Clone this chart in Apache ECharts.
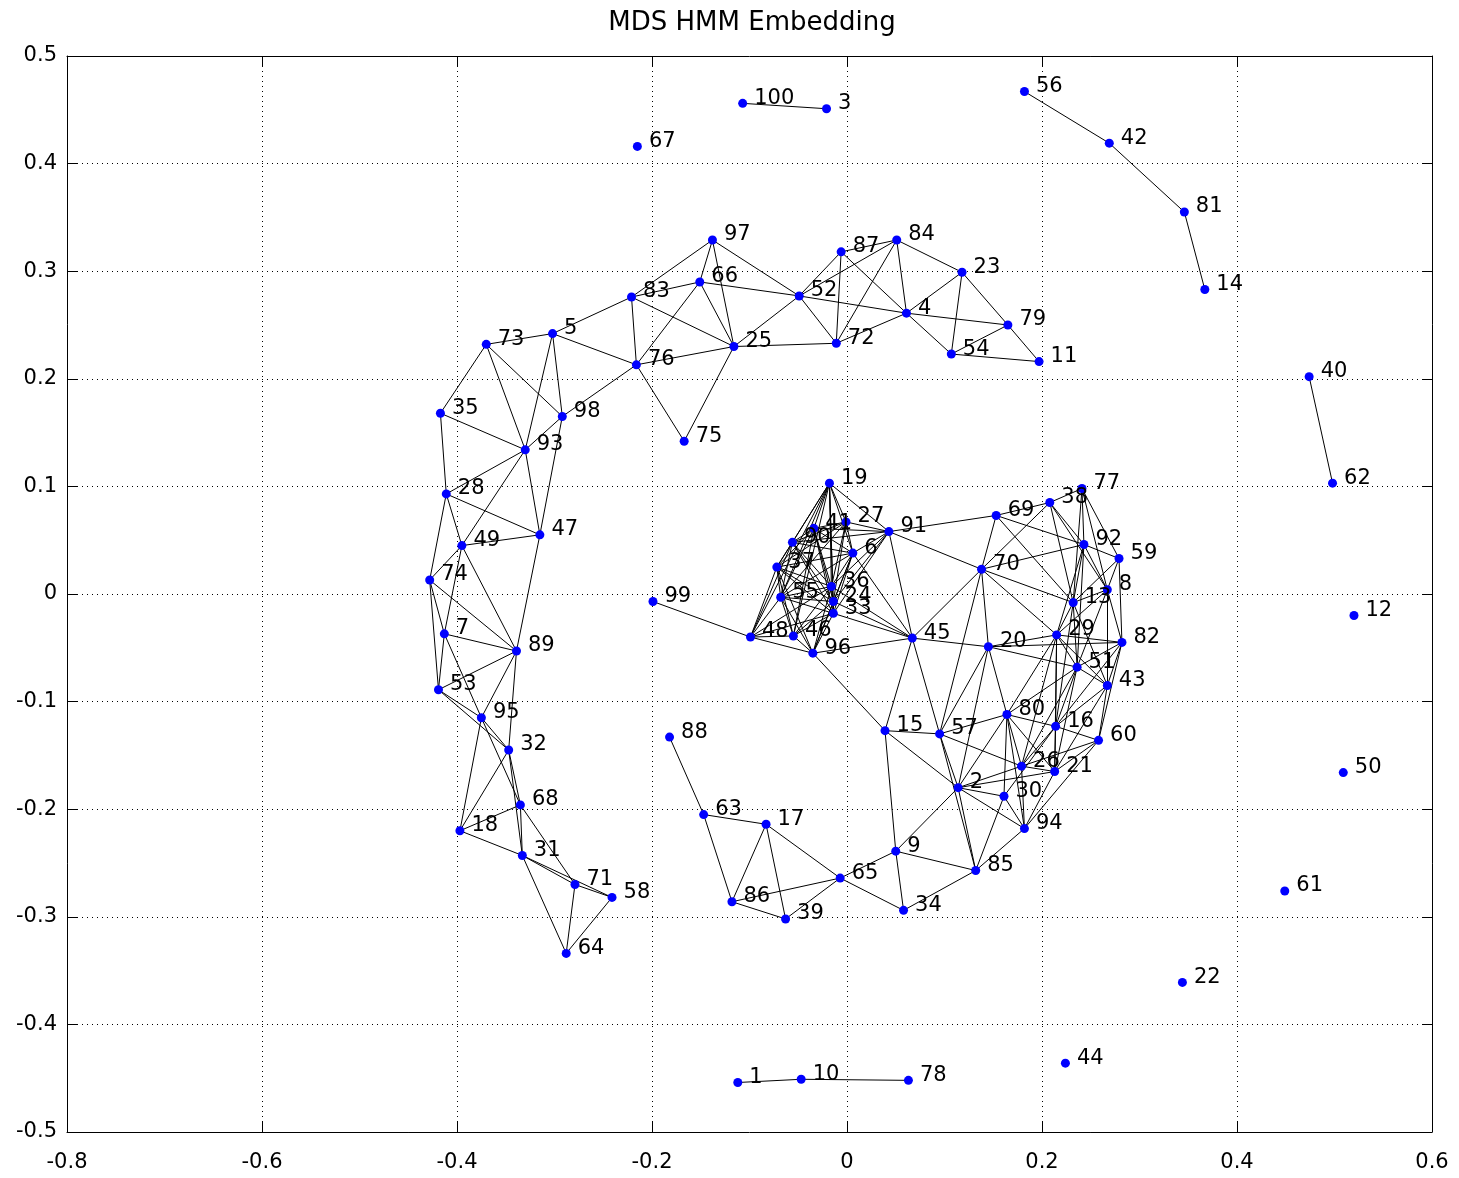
<!DOCTYPE html>
<html>
<head>
<meta charset="utf-8">
<script src="https://cdn.jsdelivr.net/npm/echarts@6/dist/echarts.min.js"></script>
<style>
html,body{margin:0;padding:0;background:#fff;}
#chart{width:1459px;height:1178px;}
</style>
</head>
<body>
<div id="chart"></div>
<script>
// point ids 1..100, coordinates in id order
const pointX = [
 -0.112, 0.114,-0.021, 0.061,-0.302, 0.006,-0.413, 0.267, 0.050,-0.047,
  0.197, 0.520, 0.232, 0.367, 0.039, 0.214,-0.083,-0.397,-0.018, 0.145,
  0.213, 0.344, 0.118,-0.014,-0.116, 0.179,-0.001,-0.411, 0.215, 0.161,
 -0.333,-0.347,-0.014, 0.058,-0.417,-0.016,-0.072, 0.208,-0.063, 0.474,
 -0.034, 0.269, 0.267, 0.224, 0.067,-0.055,-0.315,-0.099,-0.395, 0.509,
  0.236,-0.049,-0.419, 0.107,-0.068, 0.182, 0.095,-0.241, 0.279, 0.258,
  0.449, 0.498,-0.147,-0.288,-0.007,-0.151,-0.215,-0.335, 0.153, 0.138,
 -0.279,-0.011,-0.370,-0.428,-0.167,-0.216, 0.241, 0.063, 0.165, 0.164,
  0.346, 0.282,-0.221, 0.051, 0.132,-0.118,-0.006,-0.182,-0.339,-0.056,
  0.043, 0.243,-0.330, 0.182,-0.375,-0.035,-0.138,-0.292,-0.199,-0.107
];
const pointY = [
 -0.454,-0.180, 0.451, 0.261, 0.242, 0.038,-0.037, 0.004,-0.239,-0.451,
  0.216,-0.020,-0.008, 0.283,-0.127,-0.123,-0.214,-0.220, 0.103,-0.049,
 -0.165,-0.361, 0.299,-0.007, 0.230,-0.160, 0.067, 0.093,-0.038,-0.188,
 -0.243,-0.145,-0.018,-0.294, 0.168, 0.007, 0.025, 0.085,-0.302, 0.202,
  0.061, 0.419,-0.085,-0.436,-0.041,-0.039, 0.055,-0.040, 0.045,-0.166,
 -0.068, 0.277,-0.089, 0.223,-0.003, 0.467,-0.130,-0.282, 0.033,-0.136,
 -0.276, 0.103,-0.205,-0.334,-0.264, 0.290, 0.416,-0.196, 0.073, 0.023,
 -0.270, 0.233, 0.232, 0.013, 0.142, 0.213, 0.098,-0.452, 0.250,-0.112,
  0.355,-0.045, 0.276, 0.329,-0.257,-0.286, 0.318,-0.133,-0.053, 0.048,
  0.058, 0.046, 0.134,-0.218,-0.115,-0.055, 0.329, 0.165,-0.007, 0.456
];
const edges = [
 [100,3],[56,42],[42,81],[81,14],[40,62],[1,10],[10,78],
 [97,83],[97,66],[97,25],[97,52],[83,66],[66,52],[66,25],[66,76],[83,76],[83,25],[5,83],[5,76],[76,25],[76,98],[76,75],[25,75],[25,52],[25,72],[52,72],[52,87],[52,84],[52,4],[87,72],[87,84],[87,4],[84,72],[84,4],[84,23],[23,4],[23,54],[23,79],[4,79],[4,54],[4,72],[79,54],[79,11],[54,11],
 [73,5],[73,35],[73,93],[73,98],[5,98],[5,93],[98,93],[98,47],[35,93],[35,28],[93,28],[93,47],[93,49],[28,47],[28,49],[28,74],[49,47],[49,74],[49,7],[49,89],[47,89],[74,7],[74,53],[74,89],[7,89],[7,53],[7,95],[89,53],[89,95],[89,32],
 [53,95],[53,32],[95,32],[95,18],[95,68],[32,18],[32,68],[32,31],[68,18],[68,31],[68,71],[18,31],[31,71],[31,58],[31,64],[71,58],[71,64],[64,58],
 [88,63],[63,17],[63,86],[17,86],[17,39],[17,65],[86,39],[86,65],[39,65],[65,9],[65,34],[9,15],[9,34],[9,2],[9,85],[85,34],
 [15,57],[15,2],[15,96],[15,45],[57,45],[57,70],[57,80],[57,2],[57,26],[57,85],[80,16],[80,2],[80,30],[80,26],[80,94],[80,21],[16,60],[16,26],[16,21],[16,30],[60,21],[60,26],[60,94],[26,2],[26,21],[26,94],[2,30],[2,21],[2,85],[2,94],[30,94],[30,85],[94,85],[21,94],[20,2],[20,80],[20,57],
 [69,38],[69,91],[69,70],[69,92],[69,13],[38,77],[38,70],[38,92],[38,8],[38,13],[77,92],[77,59],[77,8],[77,13],[92,70],[92,59],[92,8],[92,13],[92,29],[92,51],[59,8],[59,13],[59,82],[70,20],[70,13],[70,45],[70,91],[70,29],[8,13],[8,82],[8,29],[8,43],[8,51],[13,29],[13,51],[13,43],[20,29],[20,82],[20,51],[20,45],[29,82],[29,51],[29,43],[51,43],[51,82],[82,43],[82,60],[43,60],[43,16],[51,16],[51,80],[29,80],[29,16],[29,21],[43,21],[51,21],[82,16],[13,16],[29,26],[51,26],
 [19,41],[19,27],[19,90],[19,37],[19,36],[19,24],[19,6],[19,91],[19,48],[19,33],[19,55],[19,46],
 [41,27],[41,90],[41,37],[41,36],[41,24],[41,6],[41,91],[41,55],[41,33],[41,46],
 [27,90],[27,6],[27,36],[27,91],[27,24],[27,37],[27,55],
 [90,37],[90,36],[90,6],[90,55],[90,24],[90,91],[90,48],[90,33],
 [6,36],[6,24],[6,91],[6,45],[6,33],[6,37],[6,55],[6,96],
 [37,55],[37,36],[37,48],[37,46],[37,24],[37,96],[37,33],
 [36,24],[36,33],[36,55],[36,45],[36,91],[36,46],[36,96],[36,48],
 [55,24],[55,48],[55,46],[55,96],[55,33],
 [24,33],[24,45],[24,91],[24,46],[24,96],
 [33,45],[33,46],[33,96],[33,91],[33,48],
 [48,46],[48,96],[48,99],[46,96],[96,45],[91,45]
];
const xTicks = {min:-0.8, max:0.6, interval:0.2};
const yTicks = {min:-0.5, max:0.5, interval:0.1};

const FONT = '"DejaVu Sans", sans-serif';
const points = pointX.map((x,i)=>[x, pointY[i], i+1]);
const lineData = edges.map(([a,b])=>({coords:[[pointX[a-1],pointY[a-1]],[pointX[b-1],pointY[b-1]]]}));

const chart = echarts.init(document.getElementById('chart'), null, {renderer:'canvas'});
const axisCommon = {
  axisLine:{show:true, onZero:false, lineStyle:{color:'#000', width:1}},
  axisTick:{show:true, inside:true, length:10, lineStyle:{color:'#000'}},
};
chart.setOption({
  animation:false,
  backgroundColor:'#fff',
  title:{text:'MDS HMM Embedding', left:747, top:5, textAlign:'center',
    textStyle:{fontFamily:FONT, fontSize:26, fontWeight:'normal', color:'#000'}},
  grid:{left:67, right:27, top:56, bottom:46, containLabel:false},
  xAxis:[
    Object.assign({type:'value', position:'bottom', min:xTicks.min, max:xTicks.max, interval:xTicks.interval,
      axisLabel:{fontFamily:FONT, fontSize:21, color:'#000', margin:20},
      splitLine:{show:true, lineStyle:{color:'#000', type:[1,4], width:1}}}, axisCommon),
    Object.assign({type:'value', position:'top', min:xTicks.min, max:xTicks.max, interval:xTicks.interval,
      axisLabel:{show:false}, splitLine:{show:false}}, axisCommon)
  ],
  yAxis:[
    Object.assign({type:'value', position:'left', min:yTicks.min, max:yTicks.max, interval:yTicks.interval,
      axisLabel:{fontFamily:FONT, fontSize:21, color:'#000', margin:10},
      splitLine:{show:true, lineStyle:{color:'#000', type:[1,4], width:1}}}, axisCommon),
    Object.assign({type:'value', position:'right', min:yTicks.min, max:yTicks.max, interval:yTicks.interval,
      axisLabel:{show:false}, splitLine:{show:false}}, axisCommon)
  ],
  series:[
    {type:'lines', coordinateSystem:'cartesian2d', xAxisIndex:0, yAxisIndex:0, silent:true,
      lineStyle:{color:'#000', width:1, opacity:1}, data:lineData, z:2},
    {type:'scatter', xAxisIndex:0, yAxisIndex:0, symbol:'circle', symbolSize:9, silent:true,
      itemStyle:{color:'#0000ff', opacity:1}, data:points, z:3,
      label:{show:true, position:'right', distance:5, offset:[2,-5],
        formatter:p=>String(p.value[2]), fontFamily:FONT, fontSize:21, color:'#000', opacity:1}}
  ]
});
</script>
</body>
</html>
